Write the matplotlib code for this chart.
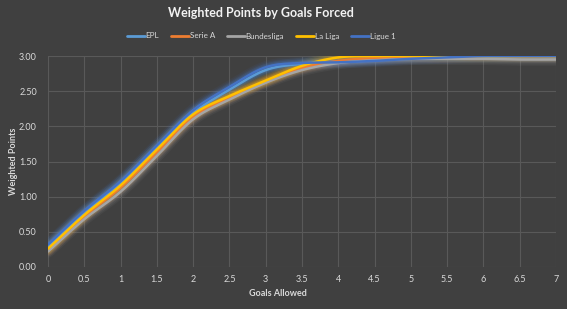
import numpy as np
import matplotlib
matplotlib.use("Agg")
import matplotlib.pyplot as plt

plt.rcParams['font.family'] = ['Lato', 'DejaVu Sans']

# Goals allowed (x) and weighted points for each league
goals = [0, 0.5, 1, 1.5, 2, 2.5, 3, 3.5, 4, 4.5, 5, 5.5, 6, 6.5, 7]
epl = [0.30, 0.78, 1.20, 1.70, 2.19, 2.52, 2.80, 2.89, 2.92, 2.95, 2.97, 2.98, 2.99, 3.00, 3.00]
serie_a = [0.24, 0.72, 1.13, 1.63, 2.13, 2.41, 2.64, 2.83, 2.93, 2.97, 2.98, 2.99, 3.00, 3.00, 3.00]
bundesliga = [0.22, 0.68, 1.07, 1.58, 2.10, 2.38, 2.62, 2.80, 2.90, 2.94, 2.96, 2.96, 2.96, 2.95, 2.95]
la_liga = [0.26, 0.74, 1.16, 1.67, 2.17, 2.43, 2.65, 2.86, 2.98, 3.00, 3.00, 3.00, 3.00, 3.00, 3.00]
ligue_1 = [0.32, 0.80, 1.22, 1.73, 2.23, 2.56, 2.84, 2.90, 2.91, 2.93, 2.96, 2.98, 3.00, 3.00, 3.00]

series = [
    ("EPL", epl, "#5B9BD5"),
    ("Serie A", serie_a, "#ED7D31"),
    ("Bundesliga", bundesliga, "#A5A5A5"),
    ("La Liga", la_liga, "#FFC000"),
    ("Ligue 1", ligue_1, "#4472C4"),
]


def smooth(x, y, steps=20):
    """Catmull-Rom smoothing between consecutive points (spreadsheet-style smoothed line)."""
    x = np.asarray(x, float)
    y = np.asarray(y, float)
    px = np.concatenate([[2 * x[0] - x[1]], x, [2 * x[-1] - x[-2]]])
    py = np.concatenate([[2 * y[0] - y[1]], y, [2 * y[-1] - y[-2]]])
    xs, ys = [], []
    t = np.linspace(0, 1, steps, endpoint=False)
    for i in range(1, len(px) - 2):
        p0, p1, p2, p3 = (np.array([px[j], py[j]]) for j in range(i - 1, i + 3))
        c1 = p1 + (p2 - p0) / 6
        c2 = p2 - (p3 - p1) / 6
        tt = t[:, None]
        pts = ((1 - tt) ** 3) * p1 + 3 * ((1 - tt) ** 2) * tt * c1 + 3 * (1 - tt) * tt ** 2 * c2 + tt ** 3 * p2
        xs.append(pts[:, 0])
        ys.append(pts[:, 1])
    xs.append([x[-1]])
    ys.append([y[-1]])
    return np.concatenate(xs), np.concatenate(ys)


bg = "#404040"
grid_c = "#595959"
text_c = "#D9D9D9"

fig = plt.figure(figsize=(5.67, 3.09), dpi=100, facecolor=bg)
ax = fig.add_axes([48 / 567, 42 / 309, 508 / 567, 211 / 309], facecolor=bg)

handles = []
for name, vals, color in series:
    sx, sy = smooth(goals, vals)
    for w, a in [(9, 0.07), (7, 0.09), (5, 0.12), (3.5, 0.15)]:
        ax.plot(sx, sy, color=color, lw=w, alpha=a, solid_capstyle='round', zorder=2)
    h, = ax.plot(sx, sy, color=color, lw=1.8, solid_capstyle='round', zorder=3, label=name)
    handles.append(h)

ax.set_xlim(0, 7)
ax.set_ylim(0, 3)
ax.set_xticks(np.arange(0, 7.01, 0.5))
ax.set_xticklabels(["0", "0.5", "1", "1.5", "2", "2.5", "3", "3.5", "4", "4.5",
                    "5", "5.5", "6", "6.5", "7"])
ax.set_yticks(np.arange(0, 3.01, 0.5))
ax.set_yticklabels([f"{v:.2f}" for v in np.arange(0, 3.01, 0.5)])
ax.grid(True, color=grid_c, lw=0.8, zorder=0)
ax.set_axisbelow(True)
for s in ax.spines.values():
    s.set_visible(False)
ax.tick_params(axis='both', length=0, colors=text_c, labelsize=6.5, pad=6)
ax.tick_params(axis='y', pad=8)

fig.text(261 / 567, 1 - 13 / 309, "Weighted Points by Goals Forced", ha='center', va='center',
         color="#F2F2F2", fontsize=9, fontweight='bold')
fig.text(278 / 567, 1 - 293 / 309, "Goals Allowed", ha='center', va='center',
         color=text_c, fontsize=6.5, fontweight='bold')
fig.text(14 / 567, 1 - 161 / 309, "Weighted Points", ha='center', va='center', rotation=90,
         color=text_c, fontsize=6.5, fontweight='bold')

leg = fig.legend(handles=handles, loc='center', bbox_to_anchor=(261 / 567, 1 - 36 / 309),
                 ncol=5, frameon=False, fontsize=5.8, handlelength=2.2, handletextpad=0.1,
                 columnspacing=1.5, labelcolor=text_c)
for line in leg.get_lines():
    line.set_linewidth(2)

fig.savefig("out.png", dpi=100, facecolor=bg)
